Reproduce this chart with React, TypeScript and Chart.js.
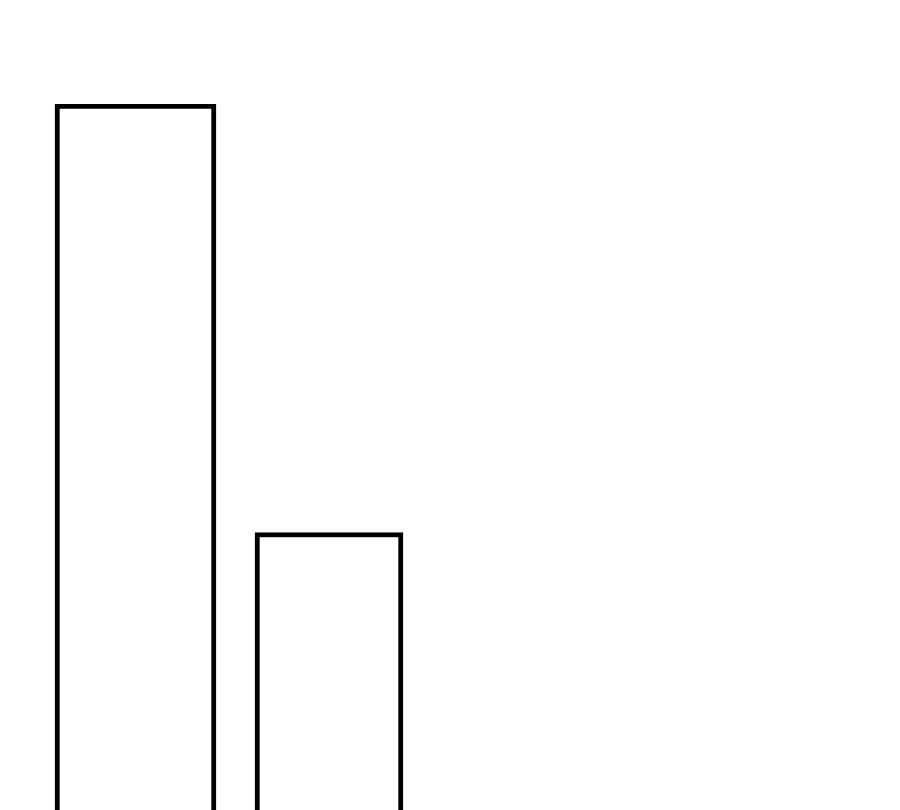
import { useRef, useEffect } from "react";
import { Chart, ChartConfiguration, registerables } from "chart.js";

Chart.register(...registerables);

const categories = ["A", "B"];
const tallValues = [100, null];
const shortValues = [null, 52.7];

export default function App() {
  const chartRef = useRef<HTMLCanvasElement>(null);
  const chartInstanceRef = useRef<Chart | null>(null);

  useEffect(() => {
    if (!chartRef.current) return;
    if (chartInstanceRef.current) chartInstanceRef.current.destroy();
    const ctx = chartRef.current.getContext("2d");
    if (!ctx) return;

    const config: ChartConfiguration = {
      type: "bar",
      data: {
        labels: categories,
        datasets: [
          {
            data: tallValues as any,
            backgroundColor: "#ffffff",
            borderColor: "#000000",
            borderWidth: 5,
            barThickness: 161,
            grouped: false,
          } as any,
          {
            data: shortValues as any,
            backgroundColor: "#ffffff",
            borderColor: "#000000",
            borderWidth: 5,
            barThickness: 148,
            grouped: false,
          } as any,
        ],
      },
      options: {
        responsive: false,
        animation: false,
        layout: { padding: { top: 104, bottom: 0, left: 38.75, right: 474.25 } },
        plugins: { legend: { display: false }, tooltip: { enabled: false } },
        scales: {
          x: { display: false },
          y: { display: false, min: 0, max: 100 },
        },
      },
    };

    chartInstanceRef.current = new Chart(ctx, config);
    return () => {
      if (chartInstanceRef.current) {
        chartInstanceRef.current.destroy();
        chartInstanceRef.current = null;
      }
    };
  }, []);

  return (
    <div style={{ position: "fixed", left: 0, top: 0, width: 900, height: 810, overflow: "hidden", background: "#fff" }}>
      <canvas ref={chartRef} width={900} height={1010} style={{ display: "block" }}></canvas>
    </div>
  );
}
